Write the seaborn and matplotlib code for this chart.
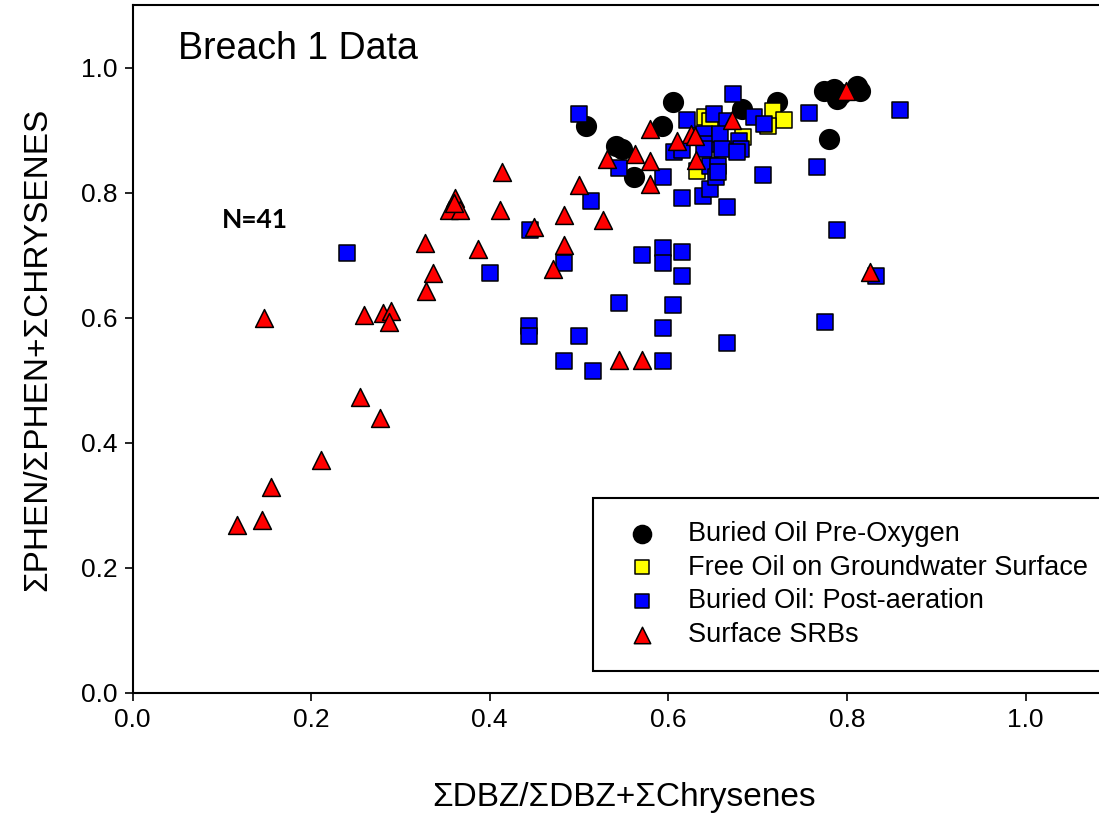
import matplotlib
matplotlib.use("Agg")
import matplotlib.pyplot as plt
import seaborn as sns
import pandas as pd

# Buried oil before oxygen addition
pre_x = [0.508, 0.605, 0.593, 0.541, 0.548, 0.561, 0.683, 0.774, 0.785, 0.793,
         0.789, 0.811, 0.815, 0.780, 0.722]
pre_y = [0.906, 0.945, 0.906, 0.874, 0.870, 0.825, 0.934, 0.963, 0.966, 0.958,
         0.950, 0.971, 0.963, 0.886, 0.945]

# Free oil on the groundwater surface
free_x = [0.641, 0.684, 0.632, 0.717, 0.729, 0.712, 0.647]
free_y = [0.921, 0.889, 0.834, 0.930, 0.916, 0.907, 0.915]

# Buried oil after aeration
post_x = [0.500, 0.545, 0.594, 0.513, 0.615, 0.639, 0.647, 0.666, 0.706, 0.672,
          0.696, 0.621, 0.651, 0.666, 0.606, 0.615, 0.640, 0.643, 0.658, 0.660,
          0.679, 0.681, 0.640, 0.647, 0.656, 0.653, 0.859, 0.757, 0.766, 0.707,
          0.789, 0.833, 0.776, 0.240, 0.400, 0.445, 0.483, 0.571, 0.594, 0.594,
          0.615, 0.615, 0.545, 0.605, 0.444, 0.444, 0.500, 0.594, 0.666, 0.483,
          0.516, 0.594, 0.677, 0.656]
post_y = [0.926, 0.840, 0.825, 0.786, 0.792, 0.795, 0.806, 0.777, 0.828, 0.958,
          0.921, 0.916, 0.926, 0.915, 0.865, 0.868, 0.894, 0.878, 0.894, 0.870,
          0.883, 0.870, 0.870, 0.843, 0.843, 0.825, 0.932, 0.927, 0.841, 0.910,
          0.740, 0.666, 0.593, 0.703, 0.672, 0.741, 0.687, 0.700, 0.712, 0.687,
          0.705, 0.666, 0.624, 0.621, 0.586, 0.570, 0.571, 0.583, 0.559, 0.530,
          0.515, 0.530, 0.865, 0.833]

# Surface SRBs
srb_x = [0.580, 0.531, 0.563, 0.580, 0.580, 0.414, 0.500, 0.412, 0.483, 0.527,
         0.671, 0.625, 0.630, 0.610, 0.631, 0.799, 0.826, 0.147, 0.361, 0.354,
         0.367, 0.328, 0.387, 0.336, 0.329, 0.259, 0.280, 0.289, 0.287, 0.255,
         0.277, 0.211, 0.155, 0.117, 0.145, 0.450, 0.483, 0.471, 0.545, 0.571,
         0.360]
srb_y = [0.902, 0.853, 0.862, 0.851, 0.814, 0.833, 0.812, 0.772, 0.764, 0.757,
         0.916, 0.894, 0.891, 0.883, 0.852, 0.963, 0.673, 0.600, 0.791, 0.772,
         0.772, 0.719, 0.710, 0.672, 0.642, 0.604, 0.607, 0.610, 0.593, 0.473,
         0.440, 0.373, 0.329, 0.269, 0.276, 0.745, 0.717, 0.678, 0.533, 0.533,
         0.783]

groups = ["Buried Oil Pre-Oxygen", "Free Oil on Groundwater Surface",
          "Buried Oil: Post-aeration", "Surface SRBs"]
xs = [pre_x, free_x, post_x, srb_x]
ys = [pre_y, free_y, post_y, srb_y]
colors = ["black", "#ffff00", "#0000ff", "#ff0000"]
markers = ["o", "s", "s", "^"]
msizes = [200, 130, 130, 165]

x_ticks = [0.0, 0.2, 0.4, 0.6, 0.8, 1.0]
y_ticks = [0.0, 0.2, 0.4, 0.6, 0.8, 1.0]

sns.set_style("white")
plt.rcParams["font.family"] = ["Liberation Sans", "DejaVu Sans"]
plt.rcParams["text.color"] = "black"
plt.rcParams["axes.labelcolor"] = "black"
plt.rcParams["xtick.color"] = "black"
plt.rcParams["ytick.color"] = "black"

fig = plt.figure(figsize=(10.99, 8.15), dpi=100)
ax = fig.add_axes([0.1206, 0.1497, 0.8938, 0.8442])

frames = []
for g, gx, gy in zip(groups, xs, ys):
    frames.append(pd.DataFrame({"x": gx, "y": gy, "group": g}))
df = pd.concat(frames, ignore_index=True)

for g, c, m, s in zip(groups, colors, markers, msizes):
    sub = df[df["group"] == g]
    sns.scatterplot(data=sub, x="x", y="y", ax=ax, color=c, marker=m, s=s,
                    edgecolor="black", linewidth=1.1, label=g, zorder=3)

ax.set_xlim(0, 1.1)
ax.set_ylim(0, 1.1)
ax.set_xticks(x_ticks)
ax.set_yticks(y_ticks)
ax.set_xticklabels([f"{t:.1f}" for t in x_ticks])
ax.set_yticklabels([f"{t:.1f}" for t in y_ticks])
ax.tick_params(axis="both", which="major", direction="out", length=6,
               width=1.2, color="black", labelcolor="black", labelsize=19,
               pad=5, bottom=True, left=True, top=False, right=False)

for side in ["top", "left", "bottom"]:
    ax.spines[side].set_visible(True)
    ax.spines[side].set_color("black")
    ax.spines[side].set_linewidth(1.5)
ax.spines["right"].set_visible(False)

ax.set_xlabel("\u03a3DBZ/\u03a3DBZ+\u03a3Chrysenes", fontsize=24, labelpad=36,
              color="black")
ax.set_ylabel("\u03a3PHEN/\u03a3PHEN+\u03a3CHRYSENES", fontsize=24, labelpad=20,
              color="black")

ax.text(0.051, 1.014, "Breach 1 Data", fontsize=27, va="baseline", ha="left",
        color="black")
ax.text(0.100, 0.743, "N=41", fontsize=19, fontweight="bold", va="baseline",
        ha="left", color="black", family=["Lato", "DejaVu Sans"])

leg = ax.legend(loc="upper left", bbox_to_anchor=(593 / 1099, 1 - 498 / 815),
                bbox_transform=fig.transFigure, borderaxespad=0, fontsize=19.5,
                frameon=True, fancybox=False, framealpha=1, edgecolor="black",
                borderpad=0.85, handlelength=1.9, handletextpad=0.75,
                labelspacing=0.28, markerscale=0.92)
leg.get_frame().set_linewidth(1.5)
for t in leg.get_texts():
    t.set_color("black")

fig.savefig("out.png", dpi=100)
